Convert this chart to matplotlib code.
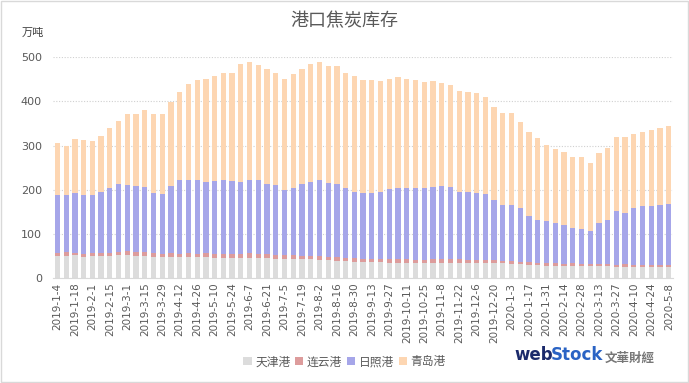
import pandas as pd
import matplotlib
matplotlib.use("Agg")
import matplotlib.pyplot as plt
from matplotlib.patches import Rectangle

plt.rcParams["font.family"] = ["Noto Sans CJK SC", "DejaVu Sans"]

dates = pd.date_range("2019-01-04", "2020-05-08", freq="7D")
labels = [f"{d.year}-{d.month}-{d.day}" for d in dates]

ports = ["天津港", "连云港", "日照港", "青岛港"]
colors = ["#dcdcdc", "#dd9c9c", "#a6a6e9", "#fdd6b2"]

tianjin = [50, 51, 52, 48, 50, 50, 51, 52, 52, 51, 50, 48, 48,
           49, 48, 49, 48, 48, 47, 47, 46, 46, 47, 46, 46, 45,
           44, 44, 43, 43, 42, 41, 40, 39, 38, 37, 37, 37, 36, 36, 36,
           35, 35, 36, 36, 36, 36, 35, 35, 35, 34, 34, 33, 32,
           31, 30, 29, 29, 28, 28, 28, 27, 27, 27, 26, 26, 25, 25, 25, 26, 26]
lianyun = [8, 8, 6, 7, 8, 8, 7, 8, 9, 8, 9, 9, 8,
           8, 7, 8, 8, 9, 8, 8, 9, 9, 10, 9, 9, 9,
           9, 9, 8, 8, 8, 8, 9, 8, 8, 8, 7, 8, 8, 7, 7,
           6, 7, 7, 8, 7, 8, 7, 7, 6, 7, 6, 6, 6,
           6, 6, 6, 5, 5, 6, 5, 5, 6, 5, 5, 6, 6, 5, 5, 5, 5]
rizhao = [130, 129, 135, 133, 130, 138, 147, 153, 150, 150, 147, 135, 135,
          151, 167, 166, 167, 161, 165, 167, 165, 163, 165, 167, 159, 157,
          146, 152, 162, 167, 172, 167, 165, 158, 150, 148, 150, 151, 158, 162, 162,
          164, 163, 164, 165, 164, 152, 154, 152, 149, 136, 125, 126, 120,
          104, 96, 94, 92, 87, 80, 78, 75, 93, 101, 121, 116, 127, 134, 134, 134, 137]
qingdao = [119, 111, 121, 124, 122, 125, 134, 142, 161, 163, 174, 180, 181,
           191, 199, 217, 226, 232, 237, 243, 243, 267, 267, 259, 258, 254,
           252, 256, 259, 267, 266, 263, 265, 260, 261, 255, 255, 249, 249, 249, 246,
           243, 239, 239, 232, 229, 227, 225, 224, 220, 210, 209, 208, 196,
           190, 185, 172, 167, 166, 161, 164, 154, 158, 162, 168, 172, 169, 167, 172, 175, 176]

df = pd.DataFrame({"天津港": tianjin, "连云港": lianyun,
                   "日照港": rizhao, "青岛港": qingdao}, index=labels)

fig = plt.figure(figsize=(6.89, 3.83), dpi=100)
ax = fig.add_axes([0.077, 0.273, 0.9, 0.578])

x = range(len(df))
bottom = [0] * len(df)
for port, c in zip(ports, colors):
    ax.bar(x, df[port], 0.6, bottom=bottom, color=c, label=port)
    bottom = [b + v for b, v in zip(bottom, df[port])]

ax.set_ylim(0, 500)
ax.set_xlim(-0.5, len(df) - 0.5)
ax.set_yticks(range(0, 501, 100))
ax.yaxis.grid(True, linestyle=(0, (1, 1.5)), color="#d0d0d0", linewidth=0.8)
ax.set_axisbelow(True)
ax.set_xticks(list(x)[::2])
ax.set_xticklabels(labels[::2], rotation=90, fontsize=7.5, color="#595959",
                   family="DejaVu Sans")
for t in ax.get_yticklabels():
    t.set_family("DejaVu Sans")
ax.tick_params(axis="y", labelsize=8, labelcolor="#595959", length=0, pad=8)
ax.tick_params(axis="x", length=0, pad=3)
for s in ["top", "right", "left"]:
    ax.spines[s].set_visible(False)
ax.spines["bottom"].set_color("#d9d9d9")

fig.text(0.5, 0.945, "港口焦炭库存", ha="center", va="center",
         fontsize=13, color="#595959")
fig.text(0.048, 0.915, "万吨", ha="center", va="center",
         fontsize=8, color="#404040")

ax.legend(loc="center", bbox_to_anchor=(0.5, 0.055), bbox_transform=fig.transFigure,
          ncol=4, frameon=False, fontsize=8.5, handlelength=0.7, handleheight=0.7,
          handletextpad=0.3, columnspacing=0.4, labelcolor="#595959")

# watermark
fig.text(0.747, 0.073, "web", fontsize=12, fontweight="bold", color="#1b2a6b",
         ha="left", va="center", family="DejaVu Sans")
fig.text(0.800, 0.073, "Stock", fontsize=12, fontweight="bold", color="#2a63c4",
         ha="left", va="center", family="DejaVu Sans")
fig.text(0.878, 0.065, "文華財經", fontsize=9, color="#777777",
         ha="left", va="center", fontweight="bold")

fig.patches.append(Rectangle((0.002, 0.003), 0.996, 0.994, transform=fig.transFigure,
                             fill=False, edgecolor="#d9d9d9", linewidth=1))

fig.savefig("out.png", dpi=100)
